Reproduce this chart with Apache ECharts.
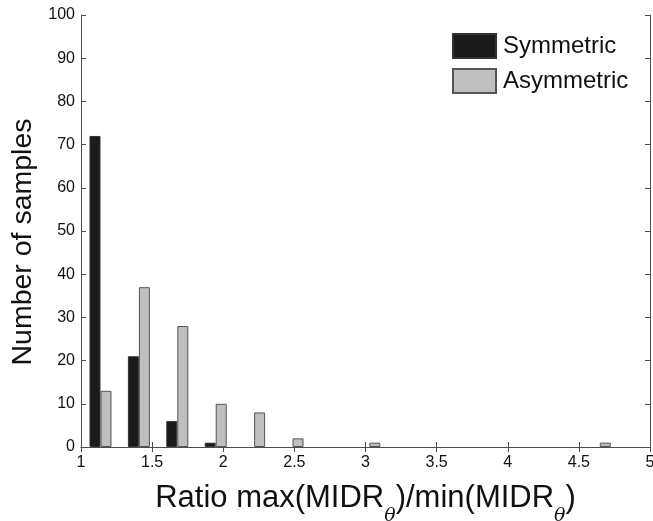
<!DOCTYPE html>
<html>
<head>
<meta charset="utf-8">
<script src="https://cdn.jsdelivr.net/npm/echarts@6/dist/echarts.min.js"></script>
<style>
 html,body{margin:0;padding:0;background:#fff;}
 #main{width:653px;height:521px;}
</style>
</head>
<body>
<div id="main"></div>
<script>
// bin centres of the histogram (ratio)
var binCenters = [1.137, 1.407, 1.677, 1.947, 2.217, 2.487, 2.757, 3.027, 3.297, 3.567, 3.837, 4.107, 4.377, 4.647];
var symmetric  = [72, 21, 6, 1, 0, 0, 0, 0, 0, 0, 0, 0, 0, 0];
var asymmetric = [13, 37, 28, 10, 8, 2, 0, 1, 0, 0, 0, 0, 0, 1];
var xTicks = [1, 1.5, 2, 2.5, 3, 3.5, 4, 4.5, 5];
var yTicks = [0, 10, 20, 30, 40, 50, 60, 70, 80, 90, 100];

var font = 'Liberation Sans, Arial, Helvetica, sans-serif';
var axisCol = '#4d4d4d';

// empty bins are not drawn (no visible bar in the figure)
function pairs(vals){
  var out = [];
  for (var i = 0; i < binCenters.length; i++) {
    out.push(vals[i] > 0 ? [binCenters[i], vals[i]] : [binCenters[i], '-']);
  }
  return out;
}

var myChart = echarts.init(document.getElementById('main'));

myChart.setOption({
  animation: false,
  grid: { left: 81, top: 15, right: 3, bottom: 74, outerBoundsMode: 'none' },
  legend: {
    orient: 'vertical',
    left: 452, top: 33,
    padding: 0,
    itemWidth: 43, itemHeight: 24, itemGap: 9,
    icon: 'rect',
    data: ['Symmetric', 'Asymmetric'],
    textStyle: { fontFamily: font, fontSize: 24, color: '#111', padding: [0, 0, 0, 2] }
  },
  xAxis: [{
    type: 'value',
    min: xTicks[0], max: xTicks[xTicks.length - 1], interval: 0.5,
    name: '{a|Ratio max(MIDR}{s|θ}{a|)/min(MIDR}{s|θ}{a|)}',
    nameLocation: 'middle',
    nameGap: 36,
    nameTextStyle: {
      rich: {
        a: { fontFamily: font, fontSize: 31, color: '#111', lineHeight: 34, verticalAlign: 'top' },
        s: { fontFamily: 'DejaVu Serif, serif', fontStyle: 'italic', fontSize: 19, color: '#111', lineHeight: 20, padding: [24, 0, 0, 0], verticalAlign: 'top' }
      }
    },
    axisLine: { show: true, lineStyle: { color: axisCol, width: 1 } },
    axisTick: { show: true, inside: true, length: 5, lineStyle: { color: axisCol } },
    axisLabel: { fontFamily: font, fontSize: 16, color: '#111', margin: 8,
      formatter: function (v) { return String(v); } },
    splitLine: { show: false }
  }, {
    type: 'value', position: 'top',
    min: 1, max: 5, interval: 0.5,
    axisLine: { show: true, lineStyle: { color: axisCol, width: 1 } },
    axisTick: { show: true, inside: true, length: 5, lineStyle: { color: axisCol } },
    axisLabel: { show: false },
    splitLine: { show: false }
  }],
  yAxis: [{
    type: 'value',
    min: yTicks[0], max: yTicks[yTicks.length - 1], interval: 10,
    name: 'Number of samples',
    nameLocation: 'middle',
    nameGap: 37,
    nameTextStyle: { fontFamily: font, fontSize: 28.5, color: '#111', padding: [0, 22, 0, 0] },
    axisLine: { show: true, lineStyle: { color: axisCol, width: 1 } },
    axisTick: { show: true, inside: true, length: 5, lineStyle: { color: axisCol } },
    axisLabel: { fontFamily: font, fontSize: 16, color: '#111', margin: 6 },
    splitLine: { show: false }
  }, {
    type: 'value', position: 'right',
    min: 0, max: 100, interval: 10,
    axisLine: { show: true, lineStyle: { color: axisCol, width: 1 } },
    axisTick: { show: true, inside: true, length: 5, lineStyle: { color: axisCol } },
    axisLabel: { show: false },
    splitLine: { show: false }
  }],
  series: [{
    name: 'Symmetric',
    type: 'bar',
    xAxisIndex: 0, yAxisIndex: 0,
    barWidth: 11,
    barGap: '0%',
    itemStyle: { color: '#1b1b1b', borderColor: '#333333', borderWidth: 1 },
    data: pairs(symmetric)
  }, {
    name: 'Asymmetric',
    type: 'bar',
    xAxisIndex: 0, yAxisIndex: 0,
    barWidth: 11,
    barGap: '0%',
    itemStyle: { color: '#bfbfbf', borderColor: '#555555', borderWidth: 1 },
    data: pairs(asymmetric)
  }]
});
</script>
</body>
</html>
